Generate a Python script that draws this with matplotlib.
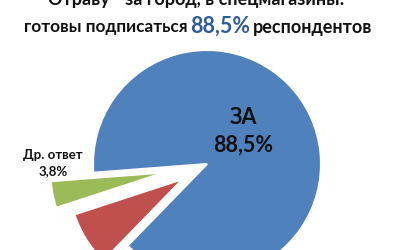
import matplotlib
matplotlib.use("Agg")
import matplotlib.pyplot as plt

# slice data (counter-clockwise from the start angle)
labels = ["ЗА", "Др. ответ", "Против"]
values = [88.5, 3.8, 7.7]
colors = ["#4F81BD", "#9BBB59", "#C0504D"]
explode = [0.0, 0.38, 0.25]   # fraction of radius

title_1 = "Отраву - за город, в спецмагазины!"
title_2a = "готовы подписаться"
title_2b = "88,5%"
title_2c = "респондентов"

plt.rcParams["font.family"] = ["Lato", "DejaVu Sans"]

R = 114
fig = plt.figure(figsize=(4, 2.5), dpi=100)
ax = fig.add_axes([0, 0, 1, 1])
ax.pie(values, colors=colors, explode=[e * R for e in explode], startangle=225.8,
       counterclock=True, center=(207, 86), radius=R,
       wedgeprops=dict(edgecolor="white", linewidth=1.5))
ax.set_xlim(0, 400); ax.set_ylim(0, 250)
ax.set_aspect("equal")
ax.axis("off")

def pct(v):
    return f"{v:.1f}%".replace(".", ",")

ax.text(243, 133, labels[0], ha="center", va="center", fontsize=15.5, fontweight="bold", color="#111111")
ax.text(243, 105, pct(values[0]), ha="center", va="center", fontsize=15.5, fontweight="bold", color="#111111")
ax.text(53, 95, labels[1], ha="center", va="center", fontsize=9.5, fontweight="bold", color="#111111")
ax.text(53, 79, pct(values[1]), ha="center", va="center", fontsize=9.5, fontweight="bold", color="#111111")

ax.text(196, 250, title_1, ha="center", va="center", fontsize=13, fontweight="bold", color="#111111")
ax.text(24, 223, title_2a, ha="left", va="center", fontsize=12.4, fontweight="bold", color="#111111")
ax.text(190, 224, title_2b, ha="left", va="center", fontsize=15.5, fontweight="bold", color="#2E5C9A")
ax.text(253, 223, title_2c, ha="left", va="center", fontsize=13, fontweight="bold", color="#111111")

fig.savefig("out.png", dpi=100)
